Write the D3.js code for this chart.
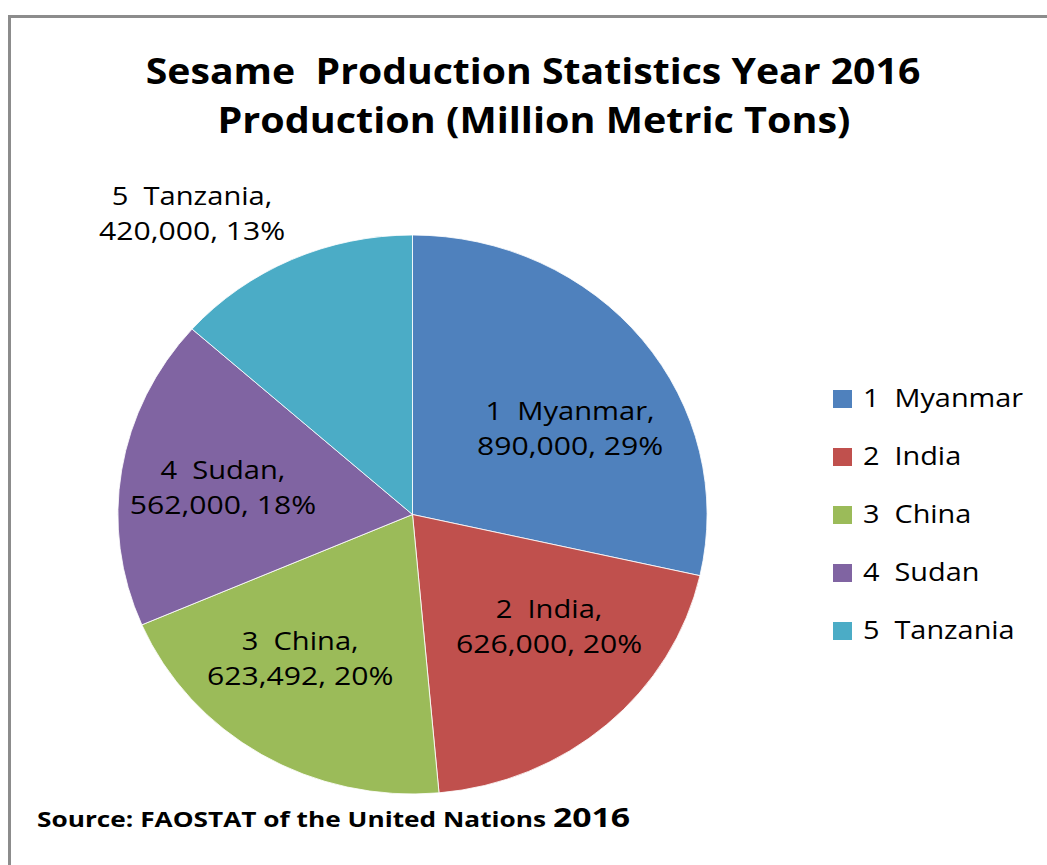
<!DOCTYPE html>
<html>
<head>
<meta charset="utf-8">
<script src="https://cdn.jsdelivr.net/npm/d3@7"></script>
<style>
  html, body { margin: 0; padding: 0; background: #fff; }
  text { font-family: "Open Sans", Lato, sans-serif; white-space: pre; }
</style>
</head>
<body>
<div id="chart"></div>
<script>
// Data
const countries = ["1  Myanmar", "2  India", "3  China", "4  Sudan", "5  Tanzania"];
const production = [890000, 626000, 623492, 562000, 420000];
const sliceColors = ["#4F81BD", "#C0504D", "#9BBB59", "#8064A2", "#4BACC6"];
const titleLines = ["Sesame  Production Statistics Year 2016", "Production (Million Metric Tons)"];

// label spots (angle in degrees, fraction of radius) - Excel "best fit"
const labelSpots = [[60.4, 0.615], [131.1, 0.615], [216.3, 0.644], [278.1, 0.65], [325.1, 1.308]];

const width = 1047, height = 865;
const cx = 412.5, cy = 514.5, radius = 279.5;
const stretch = 1.054; // original picture is a bit wider than tall

const svg = d3
  .select("#chart")
  .append("svg")
  .attr("width", width)
  .attr("height", height);

svg.append("rect").attr("width", width).attr("height", height).style("fill", "#fff");

// chart frame
svg
  .append("rect")
  .attr("x", 9.5)
  .attr("y", 16.5)
  .attr("width", 1200)
  .attr("height", 1000)
  .style("fill", "none")
  .style("stroke", "#8c8c8c")
  .style("stroke-width", 3);

const addText = (x, y, str, size, weight, anchor, sx) =>
  svg
    .append("text")
    .attr("transform", "translate(" + x + "," + y + ") scale(" + sx + ",1)")
    .attr("text-anchor", anchor)
    .style("font-size", size + "px")
    .style("font-weight", weight)
    .style("fill", "#000")
    .text(str);

// Title
addText(533, 84, titleLines[0], 35, "bold", "middle", 1.12);
addText(534, 133, titleLines[1], 35, "bold", "middle", 1.13);

// Pie
const pie = d3.pie().sort(null).value((d) => d);
const arcs = pie(production);
const arc = d3.arc().innerRadius(0).outerRadius(radius);

const pieG = svg
  .append("g")
  .attr("transform", "translate(" + cx + "," + cy + ") scale(" + stretch + ",1)");

pieG
  .selectAll("path")
  .data(arcs)
  .enter()
  .append("path")
  .attr("d", arc)
  .style("fill", (d, i) => sliceColors[i])
  .style("stroke", "#fff")
  .style("stroke-width", 0.8);

// Data labels
const total = d3.sum(production);
const fmt = d3.format(",");
arcs.forEach((d, i) => {
  const a = (labelSpots[i][0] * Math.PI) / 180;
  const r = radius * labelSpots[i][1];
  const p = d3.arc().innerRadius(r).outerRadius(r).startAngle(a).endAngle(a).centroid();
  const x = cx + p[0] * stretch, y = cy + p[1];
  const pct = Math.round((production[i] / total) * 100);
  addText(x, y - 9.5, countries[i] + ",", 26, "normal", "middle", 1.12);
  addText(x, y + 25.5, fmt(production[i]) + ", " + pct + "%", 26, "normal", "middle", 1.16);
});

// Legend
const legendY = d3.scaleLinear().domain([0, 4]).range([399, 631]);
countries.forEach((c, i) => {
  svg
    .append("rect")
    .attr("x", 833)
    .attr("y", legendY(i) - 9)
    .attr("width", 19)
    .attr("height", 18)
    .style("fill", sliceColors[i]);
  addText(863, legendY(i) + 8, c, 26, "normal", "start", 1.11);
});

// Source note
const src = svg
  .append("text")
  .attr("transform", "translate(37,827) scale(1.25,1)")
  .style("font-weight", "bold")
  .style("fill", "#000");
src.append("tspan").style("font-size", "21px").text("Source: FAOSTAT of the United Nations ");
src.append("tspan").style("font-size", "27px").text("2016");
</script>
</body>
</html>
